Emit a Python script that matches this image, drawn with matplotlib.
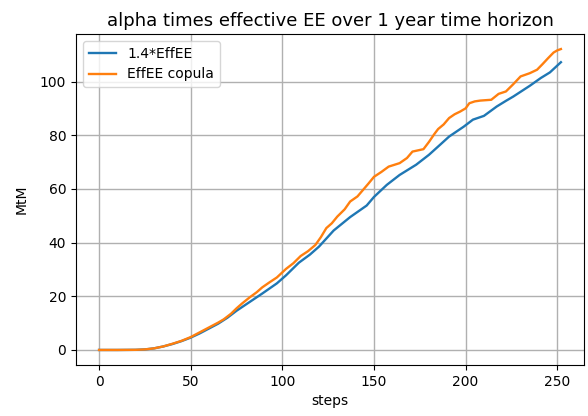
import matplotlib
matplotlib.use('Agg')
import matplotlib.pyplot as plt

# Werte
blue_steps = [0, 10, 20, 25, 30, 35, 40, 45, 50, 55, 60, 65, 70, 75, 82, 89, 97, 102,
              109, 115, 120, 128, 137, 146, 150, 157, 164, 173, 180, 186, 191, 199,
              204, 210, 217, 222, 226, 235, 241, 246, 252]
blue_vals = [0.0, 0.0, 0.05, 0.2, 0.6, 1.3, 2.2, 3.3, 4.6, 6.2, 8.0, 9.8, 12.0, 14.6,
             17.8, 21.0, 24.8, 27.8, 32.5, 35.5, 38.5, 44.5, 49.5, 53.8, 57.0, 61.5,
             65.2, 69.0, 72.7, 76.4, 79.5, 83.2, 85.8, 87.2, 90.7, 92.8, 94.4, 98.4,
             101.3, 103.4, 107.2]

orange_steps = [0, 10, 20, 25, 30, 35, 40, 45, 50, 55, 60, 65, 68, 72, 75, 78, 82, 86,
                89, 93, 97, 102, 106, 110, 114, 118, 121, 124, 127, 130, 134, 137, 141,
                144, 147, 150, 154, 158, 164, 168, 171, 177, 180, 183, 185, 188, 191,
                194, 197, 200, 202, 205, 208, 214, 218, 222, 226, 230, 235, 239, 242,
                245, 248, 250, 252]
orange_vals = [0.0, 0.0, 0.05, 0.2, 0.6, 1.3, 2.3, 3.4, 4.8, 6.6, 8.4, 10.2, 11.4, 13.5,
               15.5, 17.3, 19.5, 21.5, 23.3, 25.2, 27.0, 30.2, 32.3, 35.0, 36.8, 39.1,
               42.0, 45.4, 47.2, 49.7, 52.4, 55.3, 57.2, 59.6, 62.0, 64.5, 66.3, 68.3,
               69.6, 71.5, 73.9, 74.8, 77.5, 80.5, 82.3, 84.0, 86.4, 87.8, 88.8, 90.0,
               91.9, 92.6, 92.9, 93.2, 95.4, 96.3, 99.0, 101.9, 103.1, 104.4, 106.5,
               108.7, 110.8, 111.6, 112.1]

fig = plt.figure(figsize=(5.88, 4.16), dpi=100)
ax = fig.add_axes([76 / 588, 51 / 416, 508 / 588, 331 / 416])

ax.plot(blue_steps, blue_vals, color='tab:blue', linewidth=1.7, label='1.4*EffEE')
ax.plot(orange_steps, orange_vals, color='tab:orange', linewidth=1.7, label='EffEE copula')

ax.set_xlabel('steps')
ax.set_ylabel('MtM', labelpad=8)
ax.set_title('alpha times effective EE over 1 year time horizon', fontsize=13)
ax.set_xticks([0, 50, 100, 150, 200, 250])
ax.set_yticks([0, 20, 40, 60, 80, 100])
ax.grid(True, linewidth=1.0)
ax.legend(loc='upper left')

fig.savefig('out.png', dpi=100)
